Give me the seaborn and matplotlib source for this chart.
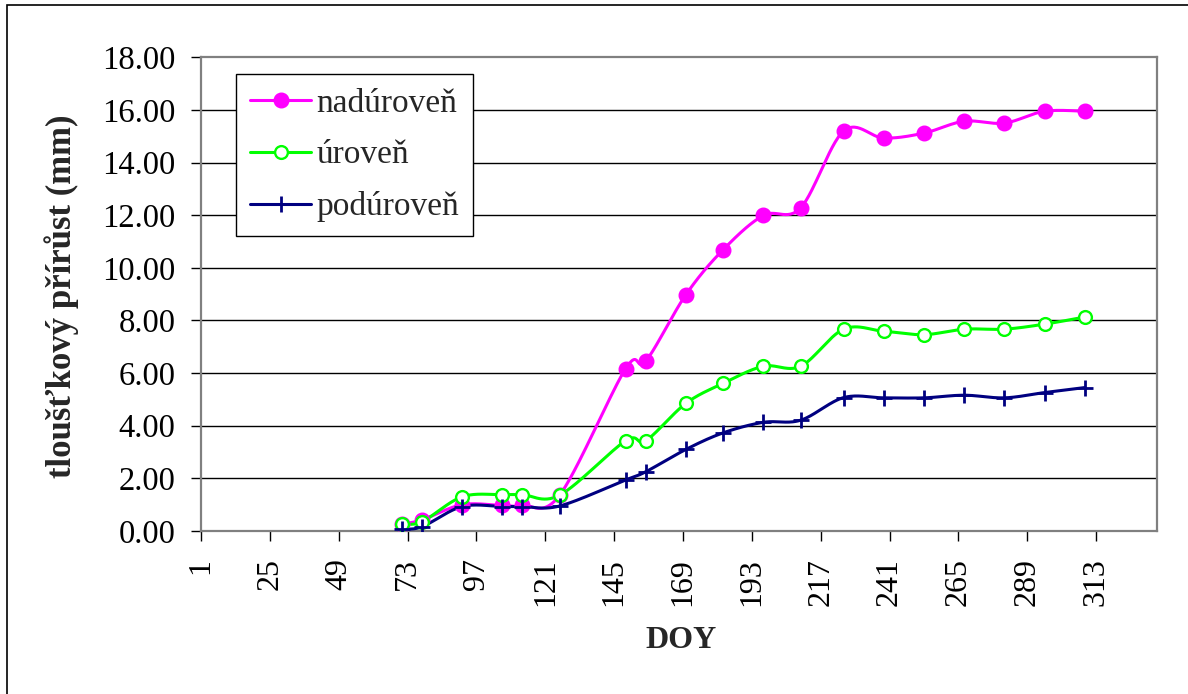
import numpy as np
import pandas as pd
import matplotlib
matplotlib.use("Agg")
import matplotlib.pyplot as plt
from matplotlib.lines import Line2D
from matplotlib.patches import Rectangle
import seaborn as sns

# ---- data ----
doy = [71, 78, 92, 106, 113, 126, 149, 156, 170, 183, 197, 210, 225, 239, 253, 267, 281, 295, 309]
nad_values = [0.27, 0.42, 1.00, 0.97, 0.97, 1.36, 6.17, 6.45, 8.98, 10.69, 11.99, 12.28,
              15.20, 14.93, 15.12, 15.57, 15.50, 15.95, 15.95]
uro_values = [0.28, 0.35, 1.30, 1.38, 1.38, 1.36, 3.43, 3.43, 4.85, 5.61, 6.26, 6.26,
              7.67, 7.59, 7.46, 7.67, 7.67, 7.86, 8.13]
pod_values = [0.08, 0.16, 0.93, 0.93, 0.93, 0.95, 1.94, 2.25, 3.10, 3.73, 4.13, 4.21,
              5.07, 5.06, 5.06, 5.16, 5.06, 5.26, 5.45]
series_names = ["nadúroveň", "úroveň", "podúroveň"]
x_ticks = list(range(1, 314, 24))
y_ticks = [0, 2, 4, 6, 8, 10, 12, 14, 16, 18]

colors = {"nadúroveň": "#FF00FF", "úroveň": "#00FF00", "podúroveň": "#000080"}


def excel_smooth(x, y, n=30):
    """Excel-style smoothed line (Catmull-Rom Bezier)."""
    pts = np.column_stack([x, y]).astype(float)
    out = []
    m = len(pts)
    for i in range(m - 1):
        p0 = pts[i - 1] if i > 0 else pts[i]
        p1 = pts[i]
        p2 = pts[i + 1]
        p3 = pts[i + 2] if i + 2 < m else pts[i + 1]
        c1 = p1 + (p2 - p0) / 6.0
        c2 = p2 - (p3 - p1) / 6.0
        t = np.linspace(0, 1, n, endpoint=(i == m - 2))[:, None]
        seg = ((1 - t) ** 3) * p1 + 3 * ((1 - t) ** 2) * t * c1 + 3 * (1 - t) * t ** 2 * c2 + t ** 3 * p2
        out.append(seg)
    out = np.vstack(out)
    return out[:, 0], out[:, 1]


raw = {"nadúroveň": nad_values, "úroveň": uro_values, "podúroveň": pod_values}
rows = []
for name in series_names:
    sx, sy = excel_smooth(doy, raw[name])
    for i, (a, b) in enumerate(zip(sx, sy)):
        rows.append({"DOY": a, "val": b, "series": name, "order": i})
smooth_df = pd.DataFrame(rows)
pts_df = pd.DataFrame({
    "DOY": doy * 3,
    "val": nad_values + uro_values + pod_values,
    "series": sum([[n] * len(doy) for n in series_names], []),
})

sns.set_style("white")
plt.rcParams["font.family"] = ["Liberation Serif", "DejaVu Serif"]

W, H = 1188, 694
fig = plt.figure(figsize=(W / 100, H / 100), dpi=100)
L, R, T, B = 201, 1157, 57.3, 531
ax = fig.add_axes([L / W, 1 - B / H, (R - L) / W, (B - T) / H])

# gridlines
for yv in y_ticks[1:-1]:
    ax.axhline(yv, color="black", lw=1.0, zorder=1)

sns.lineplot(data=smooth_df, x="DOY", y="val", hue="series", palette=colors,
             sort=False, estimator=None, units="series", lw=2.2, ax=ax,
             legend=False, zorder=3)

# markers
d = pts_df[pts_df.series == "nadúroveň"]
ax.plot(d.DOY, d.val, ls="none", marker="o", ms=10.5, mfc="#FF00FF", mec="#FF00FF", zorder=4)
d = pts_df[pts_df.series == "úroveň"]
ax.plot(d.DOY, d.val, ls="none", marker="o", ms=9.2, mfc="white", mec="#00FF00", mew=1.7, zorder=5)
d = pts_df[pts_df.series == "podúroveň"]
ax.plot(d.DOY, d.val, ls="none", marker="+", ms=12, mec="#000080", mew=2.0, zorder=6)

ax.set_xlim(1, 334.2)
ax.set_ylim(0, 18)
ax.set_xticks(x_ticks)
ax.set_xticklabels([str(v) for v in x_ticks], rotation=90)
ax.set_yticks(y_ticks)
ax.set_yticklabels([f"{v:.2f}" for v in y_ticks])
ax.tick_params(axis="both", which="major", direction="out", length=7.5, width=1.0,
               color="black", labelcolor="black", bottom=True, left=True)
ax.tick_params(axis="x", pad=12, labelsize=23)
ax.tick_params(axis="y", pad=11, labelsize=23.5)

for s in ax.spines.values():
    s.set_color("#808080")
    s.set_linewidth(1.6)
    s.set_visible(True)

ax.set_xlabel("DOY", fontsize=23, fontweight="bold")
ax.set_ylabel("tloušťkový přírůst (mm)", fontsize=25, fontweight="bold")
ax.xaxis.label.set_verticalalignment("center")
ax.yaxis.label.set_verticalalignment("center")
ax.xaxis.set_label_coords((680.7 - L) / (R - L), (B - 640) / (B - T))
ax.yaxis.set_label_coords((62 - L) / (R - L), (B - 296.5) / (B - T))

handles = [
    Line2D([], [], color="#FF00FF", lw=2.2, marker="o", ms=10.5, mfc="#FF00FF", mec="#FF00FF"),
    Line2D([], [], color="#00FF00", lw=2.2, marker="o", ms=9.2, mfc="white", mec="#00FF00", mew=1.7),
    Line2D([], [], color="#000080", lw=2.2, marker="+", ms=12, mew=2.0),
]
leg = ax.legend(handles, series_names, loc="upper left",
                bbox_to_anchor=(235.7 / W, 1 - 74.3 / H), bbox_transform=fig.transFigure,
                fontsize=24, frameon=True, fancybox=False, framealpha=1,
                edgecolor="black", borderpad=0.42, labelspacing=0.63,
                handlelength=1.85, handletextpad=0.15, borderaxespad=0)
leg.get_frame().set_linewidth(1.0)
leg.set_zorder(10)

# outer chart border
fig.patches.append(Rectangle((7 / W, -0.05), 1.2, 1 - 5 / H + 0.05, transform=fig.transFigure,
                             fill=False, edgecolor="black", lw=1.2, zorder=0))

fig.savefig("out.png", dpi=100, facecolor="white")
